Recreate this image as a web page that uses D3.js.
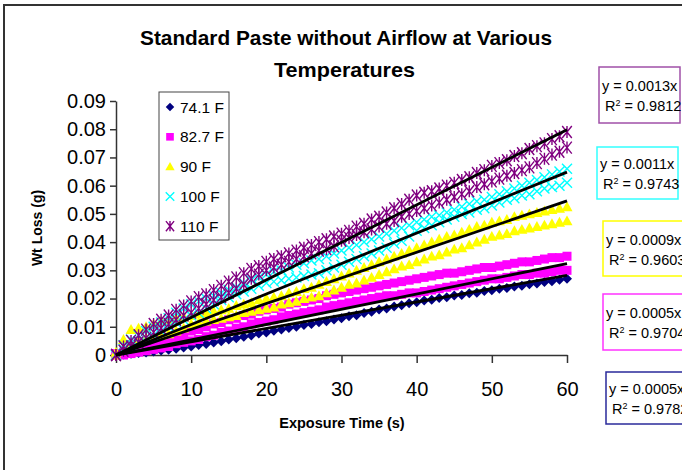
<!DOCTYPE html>
<html lang="en">
<head>
<meta charset="UTF-8">
<title>Standard Paste without Airflow</title>
<script src="https://cdn.jsdelivr.net/npm/d3@7/dist/d3.min.js"></script>
<style>
    html, body {
        margin: 0;
        padding: 0;
        background: #fff;
    }
    svg text {
        font-family: "Liberation Sans", Arial, sans-serif;
        fill: #000;
    }
</style>
</head>
<body>
<svg id="chart" width="682" height="470"></svg>
<script>
    // exposure time, one reading per second
    var times = d3.range(0, 61);

    var seriesNames = ["74.1 F", "82.7 F", "90 F", "100 F", "110 F"];

    // weight loss (g), two runs plotted per temperature
    var loss741 = [0.0000, 0.0002, 0.0004, 0.0007, 0.0009, 0.0012, 0.0016, 0.0019, 0.0022, 0.0027,
        0.0030, 0.0035, 0.0039, 0.0044, 0.0049, 0.0055, 0.0059, 0.0065, 0.0069, 0.0076,
        0.0080, 0.0086, 0.0090, 0.0096, 0.0100, 0.0106, 0.0110, 0.0116, 0.0120, 0.0126,
        0.0130, 0.0137, 0.0141, 0.0149, 0.0153, 0.0161, 0.0165, 0.0172, 0.0176, 0.0183,
        0.0187, 0.0193, 0.0196, 0.0202, 0.0205, 0.0211, 0.0213, 0.0219, 0.0221, 0.0227,
        0.0229, 0.0235, 0.0237, 0.0243, 0.0245, 0.0251, 0.0253, 0.0259, 0.0261, 0.0267, 0.0270];

    var loss827a = [0.0005, 0.0010, 0.0015, 0.0025, 0.0035, 0.0040, 0.0050, 0.0060, 0.0065, 0.0075,
        0.0085, 0.0090, 0.0100, 0.0110, 0.0115, 0.0125, 0.0130, 0.0140, 0.0145, 0.0155,
        0.0160, 0.0165, 0.0170, 0.0180, 0.0185, 0.0190, 0.0195, 0.0200, 0.0210, 0.0215,
        0.0220, 0.0225, 0.0230, 0.0235, 0.0240, 0.0245, 0.0250, 0.0255, 0.0260, 0.0265,
        0.0270, 0.0275, 0.0280, 0.0285, 0.0290, 0.0290, 0.0295, 0.0300, 0.0305, 0.0310,
        0.0310, 0.0315, 0.0320, 0.0325, 0.0330, 0.0330, 0.0335, 0.0340, 0.0345, 0.0345, 0.0350];
    var loss827b = [0.0000, 0.0000, 0.0005, 0.0010, 0.0015, 0.0020, 0.0025, 0.0030, 0.0040, 0.0045,
        0.0050, 0.0055, 0.0065, 0.0070, 0.0080, 0.0085, 0.0095, 0.0100, 0.0110, 0.0115,
        0.0120, 0.0125, 0.0135, 0.0140, 0.0145, 0.0150, 0.0155, 0.0160, 0.0170, 0.0175,
        0.0180, 0.0185, 0.0190, 0.0195, 0.0200, 0.0205, 0.0210, 0.0210, 0.0215, 0.0220,
        0.0220, 0.0225, 0.0230, 0.0235, 0.0240, 0.0245, 0.0250, 0.0255, 0.0260, 0.0265,
        0.0270, 0.0270, 0.0275, 0.0280, 0.0285, 0.0285, 0.0290, 0.0290, 0.0295, 0.0300, 0.0300];

    var loss90a = [0.0010, 0.0055, 0.0090, 0.0095, 0.0100, 0.0110, 0.0120, 0.0125, 0.0130, 0.0135,
        0.0140, 0.0145, 0.0150, 0.0155, 0.0160, 0.0165, 0.0175, 0.0180, 0.0185, 0.0195,
        0.0200, 0.0205, 0.0210, 0.0220, 0.0225, 0.0235, 0.0240, 0.0250, 0.0260, 0.0270,
        0.0280, 0.0290, 0.0300, 0.0310, 0.0320, 0.0330, 0.0340, 0.0350, 0.0360, 0.0370,
        0.0380, 0.0390, 0.0400, 0.0410, 0.0420, 0.0425, 0.0435, 0.0445, 0.0455, 0.0460,
        0.0470, 0.0475, 0.0480, 0.0490, 0.0495, 0.0500, 0.0505, 0.0510, 0.0515, 0.0520, 0.0525];
    var loss90b = [0.0000, 0.0025, 0.0040, 0.0050, 0.0060, 0.0065, 0.0070, 0.0075, 0.0085, 0.0095,
        0.0110, 0.0115, 0.0120, 0.0125, 0.0130, 0.0135, 0.0140, 0.0150, 0.0155, 0.0160,
        0.0165, 0.0170, 0.0180, 0.0185, 0.0190, 0.0200, 0.0205, 0.0210, 0.0220, 0.0230,
        0.0240, 0.0250, 0.0255, 0.0265, 0.0275, 0.0285, 0.0295, 0.0305, 0.0315, 0.0320,
        0.0330, 0.0340, 0.0350, 0.0355, 0.0365, 0.0375, 0.0380, 0.0390, 0.0400, 0.0410,
        0.0420, 0.0425, 0.0430, 0.0440, 0.0445, 0.0450, 0.0455, 0.0460, 0.0465, 0.0470, 0.0475];

    var loss100a = [0.0000, 0.0035, 0.0055, 0.0070, 0.0085, 0.0100, 0.0115, 0.0130, 0.0150, 0.0165,
        0.0180, 0.0190, 0.0200, 0.0210, 0.0220, 0.0230, 0.0240, 0.0255, 0.0265, 0.0275,
        0.0285, 0.0295, 0.0300, 0.0310, 0.0320, 0.0325, 0.0335, 0.0340, 0.0350, 0.0360,
        0.0370, 0.0380, 0.0390, 0.0400, 0.0410, 0.0420, 0.0430, 0.0440, 0.0450, 0.0460,
        0.0470, 0.0480, 0.0490, 0.0495, 0.0505, 0.0515, 0.0525, 0.0535, 0.0545, 0.0550,
        0.0560, 0.0570, 0.0580, 0.0590, 0.0600, 0.0610, 0.0620, 0.0630, 0.0640, 0.0650, 0.0660];
    var loss100b = [0.0000, 0.0020, 0.0035, 0.0045, 0.0060, 0.0070, 0.0085, 0.0100, 0.0115, 0.0125,
        0.0140, 0.0150, 0.0165, 0.0180, 0.0195, 0.0205, 0.0215, 0.0225, 0.0235, 0.0245,
        0.0255, 0.0260, 0.0265, 0.0270, 0.0275, 0.0280, 0.0285, 0.0290, 0.0300, 0.0310,
        0.0320, 0.0330, 0.0340, 0.0350, 0.0360, 0.0370, 0.0380, 0.0395, 0.0405, 0.0420,
        0.0440, 0.0450, 0.0460, 0.0470, 0.0480, 0.0490, 0.0500, 0.0505, 0.0515, 0.0520,
        0.0530, 0.0540, 0.0550, 0.0555, 0.0565, 0.0570, 0.0580, 0.0590, 0.0595, 0.0600, 0.0610];

    var loss110a = [0.0000, 0.0030, 0.0050, 0.0070, 0.0090, 0.0110, 0.0125, 0.0140, 0.0160, 0.0175,
        0.0190, 0.0205, 0.0215, 0.0230, 0.0245, 0.0260, 0.0275, 0.0290, 0.0305, 0.0315,
        0.0330, 0.0340, 0.0350, 0.0360, 0.0370, 0.0380, 0.0390, 0.0400, 0.0410, 0.0420,
        0.0430, 0.0440, 0.0455, 0.0465, 0.0480, 0.0490, 0.0505, 0.0520, 0.0535, 0.0550,
        0.0565, 0.0575, 0.0580, 0.0590, 0.0600, 0.0610, 0.0620, 0.0630, 0.0645, 0.0655,
        0.0670, 0.0680, 0.0690, 0.0705, 0.0715, 0.0730, 0.0740, 0.0750, 0.0765, 0.0775, 0.0790];
    var loss110b = [0.0000, 0.0015, 0.0030, 0.0045, 0.0060, 0.0080, 0.0095, 0.0110, 0.0125, 0.0140,
        0.0150, 0.0165, 0.0180, 0.0195, 0.0205, 0.0220, 0.0235, 0.0250, 0.0270, 0.0285,
        0.0300, 0.0310, 0.0320, 0.0330, 0.0340, 0.0350, 0.0360, 0.0370, 0.0375, 0.0385,
        0.0405, 0.0415, 0.0425, 0.0435, 0.0445, 0.0455, 0.0465, 0.0475, 0.0490, 0.0500,
        0.0510, 0.0520, 0.0530, 0.0540, 0.0550, 0.0560, 0.0570, 0.0580, 0.0595, 0.0605,
        0.0615, 0.0625, 0.0635, 0.0645, 0.0655, 0.0665, 0.0680, 0.0695, 0.0710, 0.0720, 0.0735];

    // linear trendlines through the origin (Excel)
    var trendSlopes = [0.00047, 0.00054, 0.00091, 0.00108, 0.00133];
    var trendEquations = ["y = 0.0005x", "y = 0.0005x", "y = 0.0009x", "y = 0.0011x", "y = 0.0013x"];
    var trendR2 = ["0.9782", "0.9704", "0.9603", "0.9743", "0.9812"];

    var xTicks = [0, 10, 20, 30, 40, 50, 60];
    var yTicks = [0, 0.01, 0.02, 0.03, 0.04, 0.05, 0.06, 0.07, 0.08, 0.09];

    var runs = [
        [loss741],
        [loss827a, loss827b],
        [loss90a, loss90b],
        [loss100a, loss100b],
        [loss110a, loss110b]
    ];
    var colors = ["#000080", "#ff00ff", "#ffff00", "#00ffff", "#800080"];
    var boxColors = ["#2a2a9a", "#ff33ff", "#ffff00", "#33ffff", "#a050a8"];

    // excel style markers, size = full width in px
    var symbolDiamond = {
        draw: function (ctx, size) {
            var r = size / 2;
            ctx.moveTo(0, -r); ctx.lineTo(r, 0); ctx.lineTo(0, r); ctx.lineTo(-r, 0); ctx.closePath();
        }
    };
    var symbolSquare = {
        draw: function (ctx, size) {
            var r = size / 2;
            ctx.rect(-r, -r, size, size);
        }
    };
    var symbolTriangle = {
        draw: function (ctx, size) {
            var r = size / 2;
            ctx.moveTo(0, -r); ctx.lineTo(r, r * 0.8); ctx.lineTo(-r, r * 0.8); ctx.closePath();
        }
    };
    var symbolCross = {
        draw: function (ctx, size) {
            var r = size / 2;
            ctx.moveTo(-r, -r); ctx.lineTo(r, r);
            ctx.moveTo(-r, r); ctx.lineTo(r, -r);
        }
    };
    // x with a vertical bar
    var symbolStar = {
        draw: function (ctx, size) {
            var r = size / 2;
            ctx.moveTo(-r * 0.8, -r); ctx.lineTo(r * 0.8, r);
            ctx.moveTo(-r * 0.8, r); ctx.lineTo(r * 0.8, -r);
            ctx.moveTo(0, -r); ctx.lineTo(0, r);
        }
    };
    var markers = [
        {type: symbolDiamond, size: 10, filled: true},
        {type: symbolSquare, size: 9, filled: true},
        {type: symbolTriangle, size: 11, filled: true},
        {type: symbolCross, size: 10, filled: false},
        {type: symbolStar, size: 12, filled: false}
    ];

    var svg = d3.select("#chart");

    var x = d3.scaleLinear().domain([0, 60]).range([116, 567]);
    var y = d3.scaleLinear().domain([0, 0.09]).range([355, 101]);

    // chart area frame (runs off the right and bottom)
    svg.append("rect")
        .attr("x", 4).attr("y", 5)
        .attr("width", 700).attr("height", 480)
        .attr("fill", "none")
        .attr("stroke", "#333")
        .attr("stroke-width", 2);

    // title, slightly condensed like the original
    svg.append("text")
        .attr("x", 140).attr("y", 45)
        .attr("font-size", 21)
        .attr("font-weight", "bold")
        .attr("textLength", 412)
        .attr("lengthAdjust", "spacingAndGlyphs")
        .text("Standard Paste without Airflow at Various");
    svg.append("text")
        .attr("x", 274).attr("y", 77)
        .attr("font-size", 21)
        .attr("font-weight", "bold")
        .attr("textLength", 141)
        .attr("lengthAdjust", "spacingAndGlyphs")
        .text("Temperatures");

    // axes
    var xAxis = svg.append("g")
        .attr("transform", "translate(0,355)")
        .call(d3.axisBottom(x).tickValues(xTicks).tickSize(8).tickPadding(19).tickSizeOuter(0));
    var yAxis = svg.append("g")
        .attr("transform", "translate(116,0)")
        .call(d3.axisLeft(y).tickValues(yTicks).tickSize(6).tickPadding(4).tickSizeOuter(0)
            .tickFormat(function (d) { return d === 0 ? "0" : d3.format(".2f")(d); }));

    [xAxis, yAxis].forEach(function (g) {
        g.select(".domain").attr("stroke", "#333").attr("stroke-width", 1.5);
        g.selectAll(".tick line").attr("stroke", "#333").attr("stroke-width", 1.5);
        g.selectAll(".tick text")
            .attr("font-family", "Liberation Sans, Arial, sans-serif")
            .attr("font-size", 20)
            .attr("fill", "#000");
    });

    svg.append("text")
        .attr("x", 342).attr("y", 428)
        .attr("text-anchor", "middle")
        .attr("font-size", 14.5)
        .attr("font-weight", "bold")
        .text("Exposure Time (s)");

    svg.append("text")
        .attr("transform", "translate(42,228) rotate(-90)")
        .attr("text-anchor", "middle")
        .attr("font-size", 14)
        .attr("font-weight", "bold")
        .text("Wt Loss (g)");

    // markers, series drawn in order so 110 F ends up on top
    runs.forEach(function (seriesRuns, i) {
        var m = markers[i];
        var sym = d3.symbol().type(m.type).size(m.size);
        var g = svg.append("g");
        seriesRuns.forEach(function (vals) {
            g.append("g")
                .selectAll("path")
                .data(vals)
                .enter()
                .append("path")
                .attr("transform", function (d, j) { return "translate(" + x(times[j]) + "," + y(d) + ")"; })
                .attr("d", sym)
                .attr("fill", m.filled ? colors[i] : "none")
                .attr("stroke", m.filled ? "none" : colors[i])
                .attr("stroke-width", 1.4);
        });
    });

    // trendlines
    var line = d3.line()
        .x(function (d) { return x(d[0]); })
        .y(function (d) { return y(d[1]); });
    trendSlopes.forEach(function (k) {
        svg.append("path")
            .attr("d", line([[0, 0], [60, k * 60]]))
            .attr("fill", "none")
            .attr("stroke", "#000")
            .attr("stroke-width", 2.8);
    });

    // legend
    var legend = svg.append("g");
    legend.append("rect")
        .attr("x", 159).attr("y", 92)
        .attr("width", 70).attr("height", 148)
        .attr("fill", "#fff")
        .attr("stroke", "#444")
        .attr("stroke-width", 1);
    seriesNames.forEach(function (name, i) {
        var ly = 107 + i * 29.8;
        var m = markers[i];
        legend.append("path")
            .attr("transform", "translate(170," + ly + ")")
            .attr("d", d3.symbol().type(m.type).size(m.size * 0.85))
            .attr("fill", m.filled ? colors[i] : "none")
            .attr("stroke", m.filled ? "none" : colors[i])
            .attr("stroke-width", 1.4);
        legend.append("text")
            .attr("x", 180).attr("y", ly + 5.5)
            .attr("font-size", 15.5)
            .text(name);
    });

    // trendline equation boxes (top one is 110 F)
    var eqBoxes = [
        {x: 606, y: 372, w: 90, h: 52},
        {x: 603, y: 294, w: 90, h: 56},
        {x: 603, y: 221, w: 90, h: 55},
        {x: 597, y: 147, w: 81, h: 52},
        {x: 599, y: 67, w: 81, h: 56}
    ];
    eqBoxes.forEach(function (b, i) {
        var g = svg.append("g");
        g.append("rect")
            .attr("x", b.x).attr("y", b.y)
            .attr("width", b.w).attr("height", b.h)
            .attr("fill", "#fff")
            .attr("stroke", boxColors[i])
            .attr("stroke-width", 1.5);
        g.append("text")
            .attr("x", b.x + 3).attr("y", b.y + b.h / 2 - 4)
            .attr("font-size", 14.5)
            .text(trendEquations[i]);
        var r = g.append("text")
            .attr("x", b.x + 6).attr("y", b.y + b.h / 2 + 16)
            .attr("font-size", 14.5);
        r.append("tspan").text("R");
        r.append("tspan").attr("font-size", 9).attr("dy", -5).text("2");
        r.append("tspan").attr("dy", 5).text(" = " + trendR2[i]);
    });
</script>
</body>
</html>
